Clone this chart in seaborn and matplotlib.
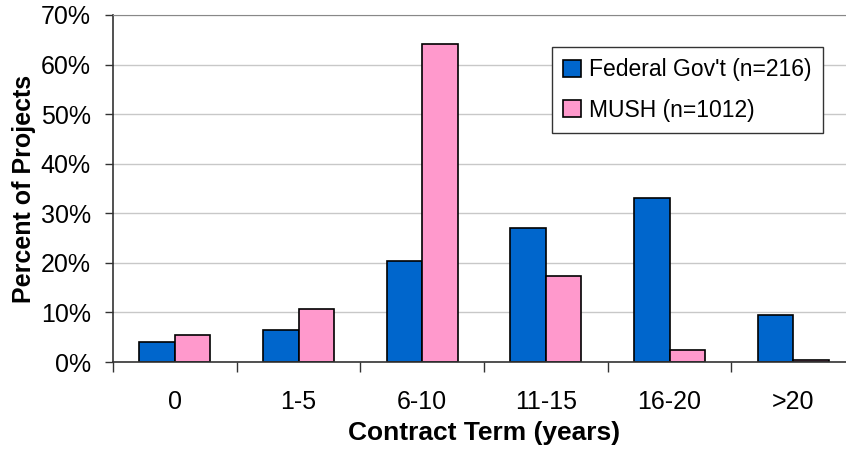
import pandas as pd
import numpy as np
import matplotlib.pyplot as plt
import seaborn as sns
from matplotlib.ticker import PercentFormatter

terms = ['0', '1-5', '6-10', '11-15', '16-20', '>20']
federal = [4.0, 6.4, 20.3, 27.0, 33.0, 9.4]
mush = [5.4, 10.6, 64.1, 17.4, 2.4, 0.4]
series = ["Federal Gov't (n=216)", 'MUSH (n=1012)']

df = pd.DataFrame({
    'term': terms * 2,
    'pct': federal + mush,
    'group': [series[0]] * len(terms) + [series[1]] * len(terms),
})

sns.set_style('white')
plt.rcParams['font.family'] = ['Liberation Sans', 'DejaVu Sans']
plt.rcParams['text.color'] = 'black'
plt.rcParams['axes.labelcolor'] = 'black'
plt.rcParams['xtick.color'] = 'black'
plt.rcParams['ytick.color'] = 'black'

fig = plt.figure(figsize=(8.46, 4.53), dpi=100)
ax = fig.add_axes([113 / 846, 1 - 362 / 453, 742 / 846, 347 / 453])

sns.barplot(data=df, x='term', y='pct', hue='group', order=terms,
            hue_order=series, palette=['#0066cc', '#ff99cc'], saturation=1,
            width=0.574, edgecolor='black', linewidth=1.2, ax=ax)

ax.set_ylim(0, 70)
ax.set_xlim(-0.5, 5.5)
ax.set_yticks(np.arange(0, 71, 10))
ax.yaxis.set_major_formatter(PercentFormatter(decimals=0))
ax.yaxis.grid(True, color='#c8c8c8', linewidth=1)
ax.set_axisbelow(True)

# ticks at category boundaries, labels in the middle
ax.set_xticks(np.arange(-0.5, 6, 1), minor=True)
ax.tick_params(axis='x', which='major', length=0, pad=20, labelsize=18)
ax.tick_params(axis='x', which='minor', length=7, width=1, color='#333333', direction='out', bottom=True)
ax.tick_params(axis='y', length=6, width=1, color='#333333', direction='out', left=True, pad=10, labelsize=18)

for side in ['left', 'bottom']:
    ax.spines[side].set_color('#333333')
    ax.spines[side].set_linewidth(1.2)
ax.spines['top'].set_color('#888888')
ax.spines['right'].set_visible(False)

ax.set_xlabel('Contract Term (years)', fontsize=19, fontweight='bold', labelpad=5)
ax.set_ylabel('Percent of Projects', fontsize=18, fontweight='bold', labelpad=3)

leg = ax.legend(loc='upper left', bbox_to_anchor=(552 / 846, 1 - 47 / 453),
                bbox_transform=fig.transFigure, fontsize=16.5, frameon=True,
                fancybox=False, edgecolor='#333333', framealpha=1,
                handlelength=0.75, handleheight=0.75, handletextpad=0.35,
                borderpad=0.5, labelspacing=0.75, borderaxespad=0)
leg.get_frame().set_linewidth(1)

fig.savefig('out.png', dpi=100)
